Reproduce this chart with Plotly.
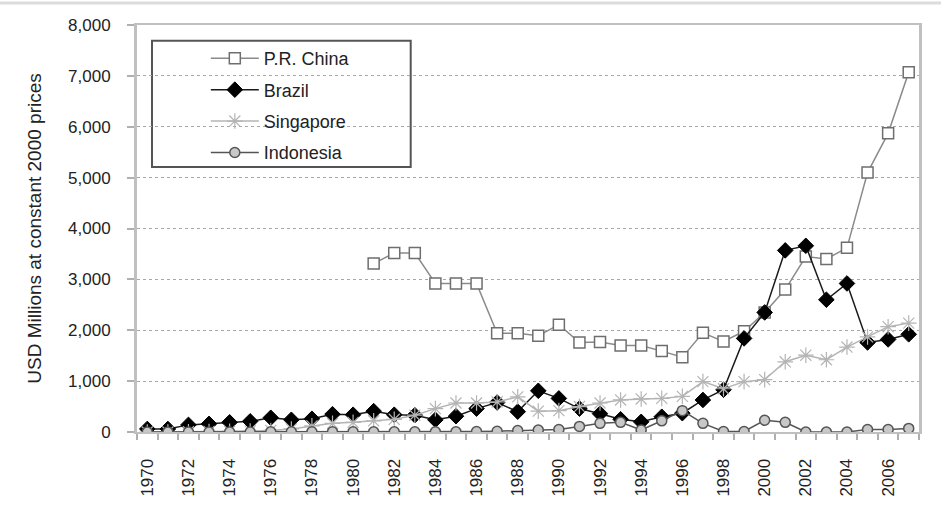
import plotly.graph_objects as go

# Years on the x axis
years = list(range(1970, 2008))

# Values in USD millions at constant 2000 prices
china = [None] * 11 + [
    3310, 3520, 3520, 2920, 2920, 2920, 1940, 1940, 1890, 2110,
    1760, 1770, 1700, 1700, 1590, 1470, 1950, 1780, 1980, 2350,
    2800, 3450, 3400, 3620, 5100, 5870, 7070]
brazil = [
    60, 60, 140, 160, 190, 210, 280, 240, 260, 350,
    340, 410, 340, 330, 240, 310, 460, 580, 400, 810,
    660, 460, 360, 250, 200, 300, 370, 630, 830, 1840,
    2350, 3570, 3660, 2600, 2920, 1760, 1820, 1920]
singapore = [
    0, 0, 5, 10, 15, 20, 30, 60, 120, 170,
    190, 220, 250, 330, 460, 570, 570, 590, 690, 410,
    420, 500, 570, 630, 650, 660, 700, 990, 850, 990,
    1030, 1380, 1510, 1420, 1670, 1870, 2070, 2140]
indonesia = [
    0, 0, 0, 0, 0, 0, 5, 5, 5, 5,
    5, 5, 5, 5, 5, 5, 10, 15, 30, 40,
    50, 110, 170, 190, 40, 220, 420, 170, 10, 10,
    230, 190, 0, 0, 0, 50, 50, 70]

y_ticks = [0, 1000, 2000, 3000, 4000, 5000, 6000, 7000, 8000]

FONT = "Arial, Liberation Sans, sans-serif"

fig = go.Figure()

fig.add_trace(go.Scatter(
    x=years, y=china, name="P.R. China", mode="lines+markers",
    line=dict(color="#8a8a8a", width=1.5),
    marker=dict(symbol="square", size=11, color="white",
                line=dict(color="#6e6e6e", width=1.5)),
    legendgroup="a"
))
fig.add_trace(go.Scatter(
    x=years, y=brazil, name="Brazil", mode="lines+markers",
    line=dict(color="#1a1a1a", width=1.5),
    marker=dict(symbol="diamond", size=12, color="#000000",
                line=dict(color="#000000", width=1)),
    legendgroup="b"
))
fig.add_trace(go.Scatter(
    x=years, y=singapore, name="Singapore", mode="lines+markers",
    line=dict(color="#b4b4b4", width=1.5),
    marker=dict(symbol="asterisk-open", size=13,
                line=dict(color="#9c9c9c", width=1.2)),
    legendgroup="c"
))
fig.add_trace(go.Scatter(
    x=years, y=indonesia, name="Indonesia", mode="lines+markers",
    line=dict(color="#555555", width=1.5),
    marker=dict(symbol="circle", size=10, color="#c8c8c8",
                line=dict(color="#555555", width=1.5)),
    legendgroup="d"
))

fig.update_layout(
    width=941, height=518,
    margin=dict(l=137, r=22, t=25, b=86),
    paper_bgcolor="white", plot_bgcolor="white",
    font=dict(family=FONT, size=16, color="#222222"),
    showlegend=True,
    legend=dict(
        x=0.088, y=0.963, xanchor="left", yanchor="top",
        bgcolor="rgba(0,0,0,0)", borderwidth=0,
        font=dict(size=18, color="#222222"),
        itemwidth=48, tracegroupgap=5, traceorder="grouped"
    ),
    shapes=[
        # legend frame
        dict(type="rect", xref="paper", yref="paper",
             x0=0.0192, x1=0.350, y0=0.651, y1=0.961,
             line=dict(color="#555555", width=2), fillcolor="rgba(0,0,0,0)",
             layer="below"),
        # thin separator line at the top of the picture
        dict(type="line", xref="paper", yref="paper",
             x0=-0.2, x1=1.1, y0=1.054, y1=1.054,
             line=dict(color="#dcdcdc", width=3)),
    ],
)

fig.update_xaxes(
    range=[1969.5, 2007.5], tick0=1970, dtick=2,
    ticks="", tickangle=-90, ticklabelstandoff=18,
    tickfont=dict(size=17, color="#222222"),
    showgrid=False, zeroline=False,
    showline=True, linecolor="#c0c0c0", linewidth=2, mirror=True,
    minor=dict(tick0=1969.5, dtick=1, ticks="outside", ticklen=6,
               tickcolor="#b0b0b0", tickwidth=1.5, showgrid=False),
    automargin=False
)

fig.update_yaxes(
    range=[0, 8000], tickvals=y_ticks, tickformat=",d",
    ticks="outside", ticklen=7, tickcolor="#b0b0b0", tickwidth=1.5,
    ticklabelstandoff=13,
    tickfont=dict(size=17, color="#222222"),
    showgrid=True, gridcolor="#a8a8a8", griddash="dot", gridwidth=1.2,
    zeroline=False,
    showline=True, linecolor="#c0c0c0", linewidth=3, mirror=True,
    title=dict(text="USD Millions at constant 2000 prices",
               font=dict(size=19, color="#222222"), standoff=22),
    automargin=False
)

# the page is photographed at 941x518, so drop the default body margin
fig.write_html("out.html", config={"displayModeBar": False},
               post_script="document.body.style.margin='0px';")
